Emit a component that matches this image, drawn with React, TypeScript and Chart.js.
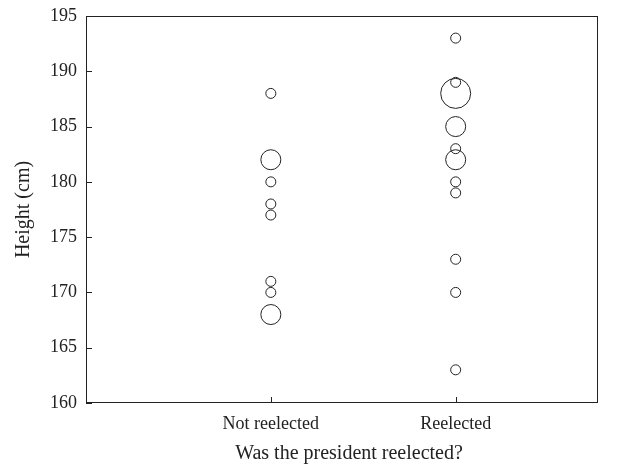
import React, { useEffect, useRef } from "react";
import { Chart, registerables } from "chart.js";

Chart.register(...registerables);

const categories = ["Not reelected", "Reelected"];
const notReelectedHeights = [188, 182, 180, 178, 177, 171, 170, 168];
const notReelectedCounts = [1, 2, 1, 1, 1, 1, 1, 2];
const reelectedHeights = [193, 189, 188, 185, 183, 182, 180, 179, 173, 170, 163];
const reelectedCounts = [1, 1, 3, 2, 1, 2, 1, 1, 1, 1, 1];
const yTicks = [160, 165, 170, 175, 180, 185, 190, 195];
const xTitle = "Was the president reelected?";
const yTitle = "Height (cm)";

const FONT = "'Liberation Serif', 'Times New Roman', serif";

const frameAndTicks = {
  id: "frameAndTicks",
  afterDraw(chart: any) {
    const { ctx, chartArea } = chart;
    const { left, right, top, bottom } = chartArea;
    ctx.save();
    ctx.strokeStyle = "#222";
    ctx.lineWidth = 1;
    ctx.strokeRect(left + 0.5, top + 0.5, right - left - 1, bottom - top - 1);
    const ys = chart.scales.y;
    ctx.beginPath();
    ys.ticks.forEach((t: any) => {
      const py = Math.round(ys.getPixelForValue(t.value)) + 0.5;
      ctx.moveTo(left, py);
      ctx.lineTo(left + 6, py);
    });
    const xs = chart.scales.x;
    xs.ticks.forEach((t: any) => {
      const px = Math.round(xs.getPixelForValue(t.value)) + 0.5;
      ctx.moveTo(px, bottom);
      ctx.lineTo(px, bottom - 6);
    });
    ctx.stroke();
    // x axis title, slightly right of the plot centre as in the reference
    ctx.fillStyle = "#222";
    ctx.font = `20px ${FONT}`;
    ctx.textAlign = "center";
    ctx.textBaseline = "middle";
    ctx.fillText(xTitle, (left + right) / 2 + 7, xs.bottom - 16);
    ctx.restore();
  },
};

function makeData(pos: number, heights: number[], counts: number[]) {
  return heights.map((h, i) => ({ x: pos, y: h, r: counts[i] * 5 }));
}

export default function App() {
  const ref = useRef<HTMLCanvasElement>(null);
  useEffect(() => {
    document.body.style.margin = "0";
    const chart = new Chart(ref.current!, {
      type: "bubble",
      data: {
        datasets: [
          {
            label: categories[0],
            data: makeData(1, notReelectedHeights, notReelectedCounts),
            backgroundColor: "rgba(255,255,255,0)",
            borderColor: "#222",
            borderWidth: 1,
          },
          {
            label: categories[1],
            data: makeData(2, reelectedHeights, reelectedCounts),
            backgroundColor: "rgba(255,255,255,0)",
            borderColor: "#222",
            borderWidth: 1,
          },
        ],
      },
      plugins: [frameAndTicks],
      options: {
        animation: false,
        responsive: false,
        layout: { padding: { top: 16, right: 32, left: 0, bottom: 0 } },
        plugins: { legend: { display: false }, tooltip: { enabled: false } },
        scales: {
          x: {
            type: "linear",
            min: 0,
            max: 2.77,
            afterBuildTicks: (s: any) => {
              s.ticks = categories.map((_, i) => ({ value: i + 1 }));
            },
            afterFit: (s: any) => {
              s.height = 67;
              s.paddingLeft = 0;
              s.paddingRight = 0;
            },
            grid: { display: false, drawTicks: false },
            border: { display: false },
            ticks: {
              padding: 10,
              color: "#222",
              font: { family: FONT, size: 18 },
              callback: (v: any) => categories[Number(v) - 1] ?? "",
            },
            title: { display: false },
          },
          y: {
            type: "linear",
            min: 160,
            max: 195,
            afterBuildTicks: (s: any) => {
              s.ticks = yTicks.map((v) => ({ value: v }));
            },
            afterFit: (s: any) => {
              s.width = 86;
              s.paddingTop = 0;
              s.paddingBottom = 0;
            },
            grid: { display: false, drawTicks: false },
            border: { display: false },
            ticks: {
              padding: 9,
              color: "#222",
              font: { family: FONT, size: 18 },
            },
            title: {
              display: true,
              text: yTitle,
              color: "#222",
              font: { family: FONT, size: 20 },
              padding: { top: 12, bottom: 0 },
            },
          },
        },
      },
    } as any);
    return () => chart.destroy();
  }, []);
  return <canvas ref={ref} width={630} height={470} style={{ display: "block" }} />;
}
